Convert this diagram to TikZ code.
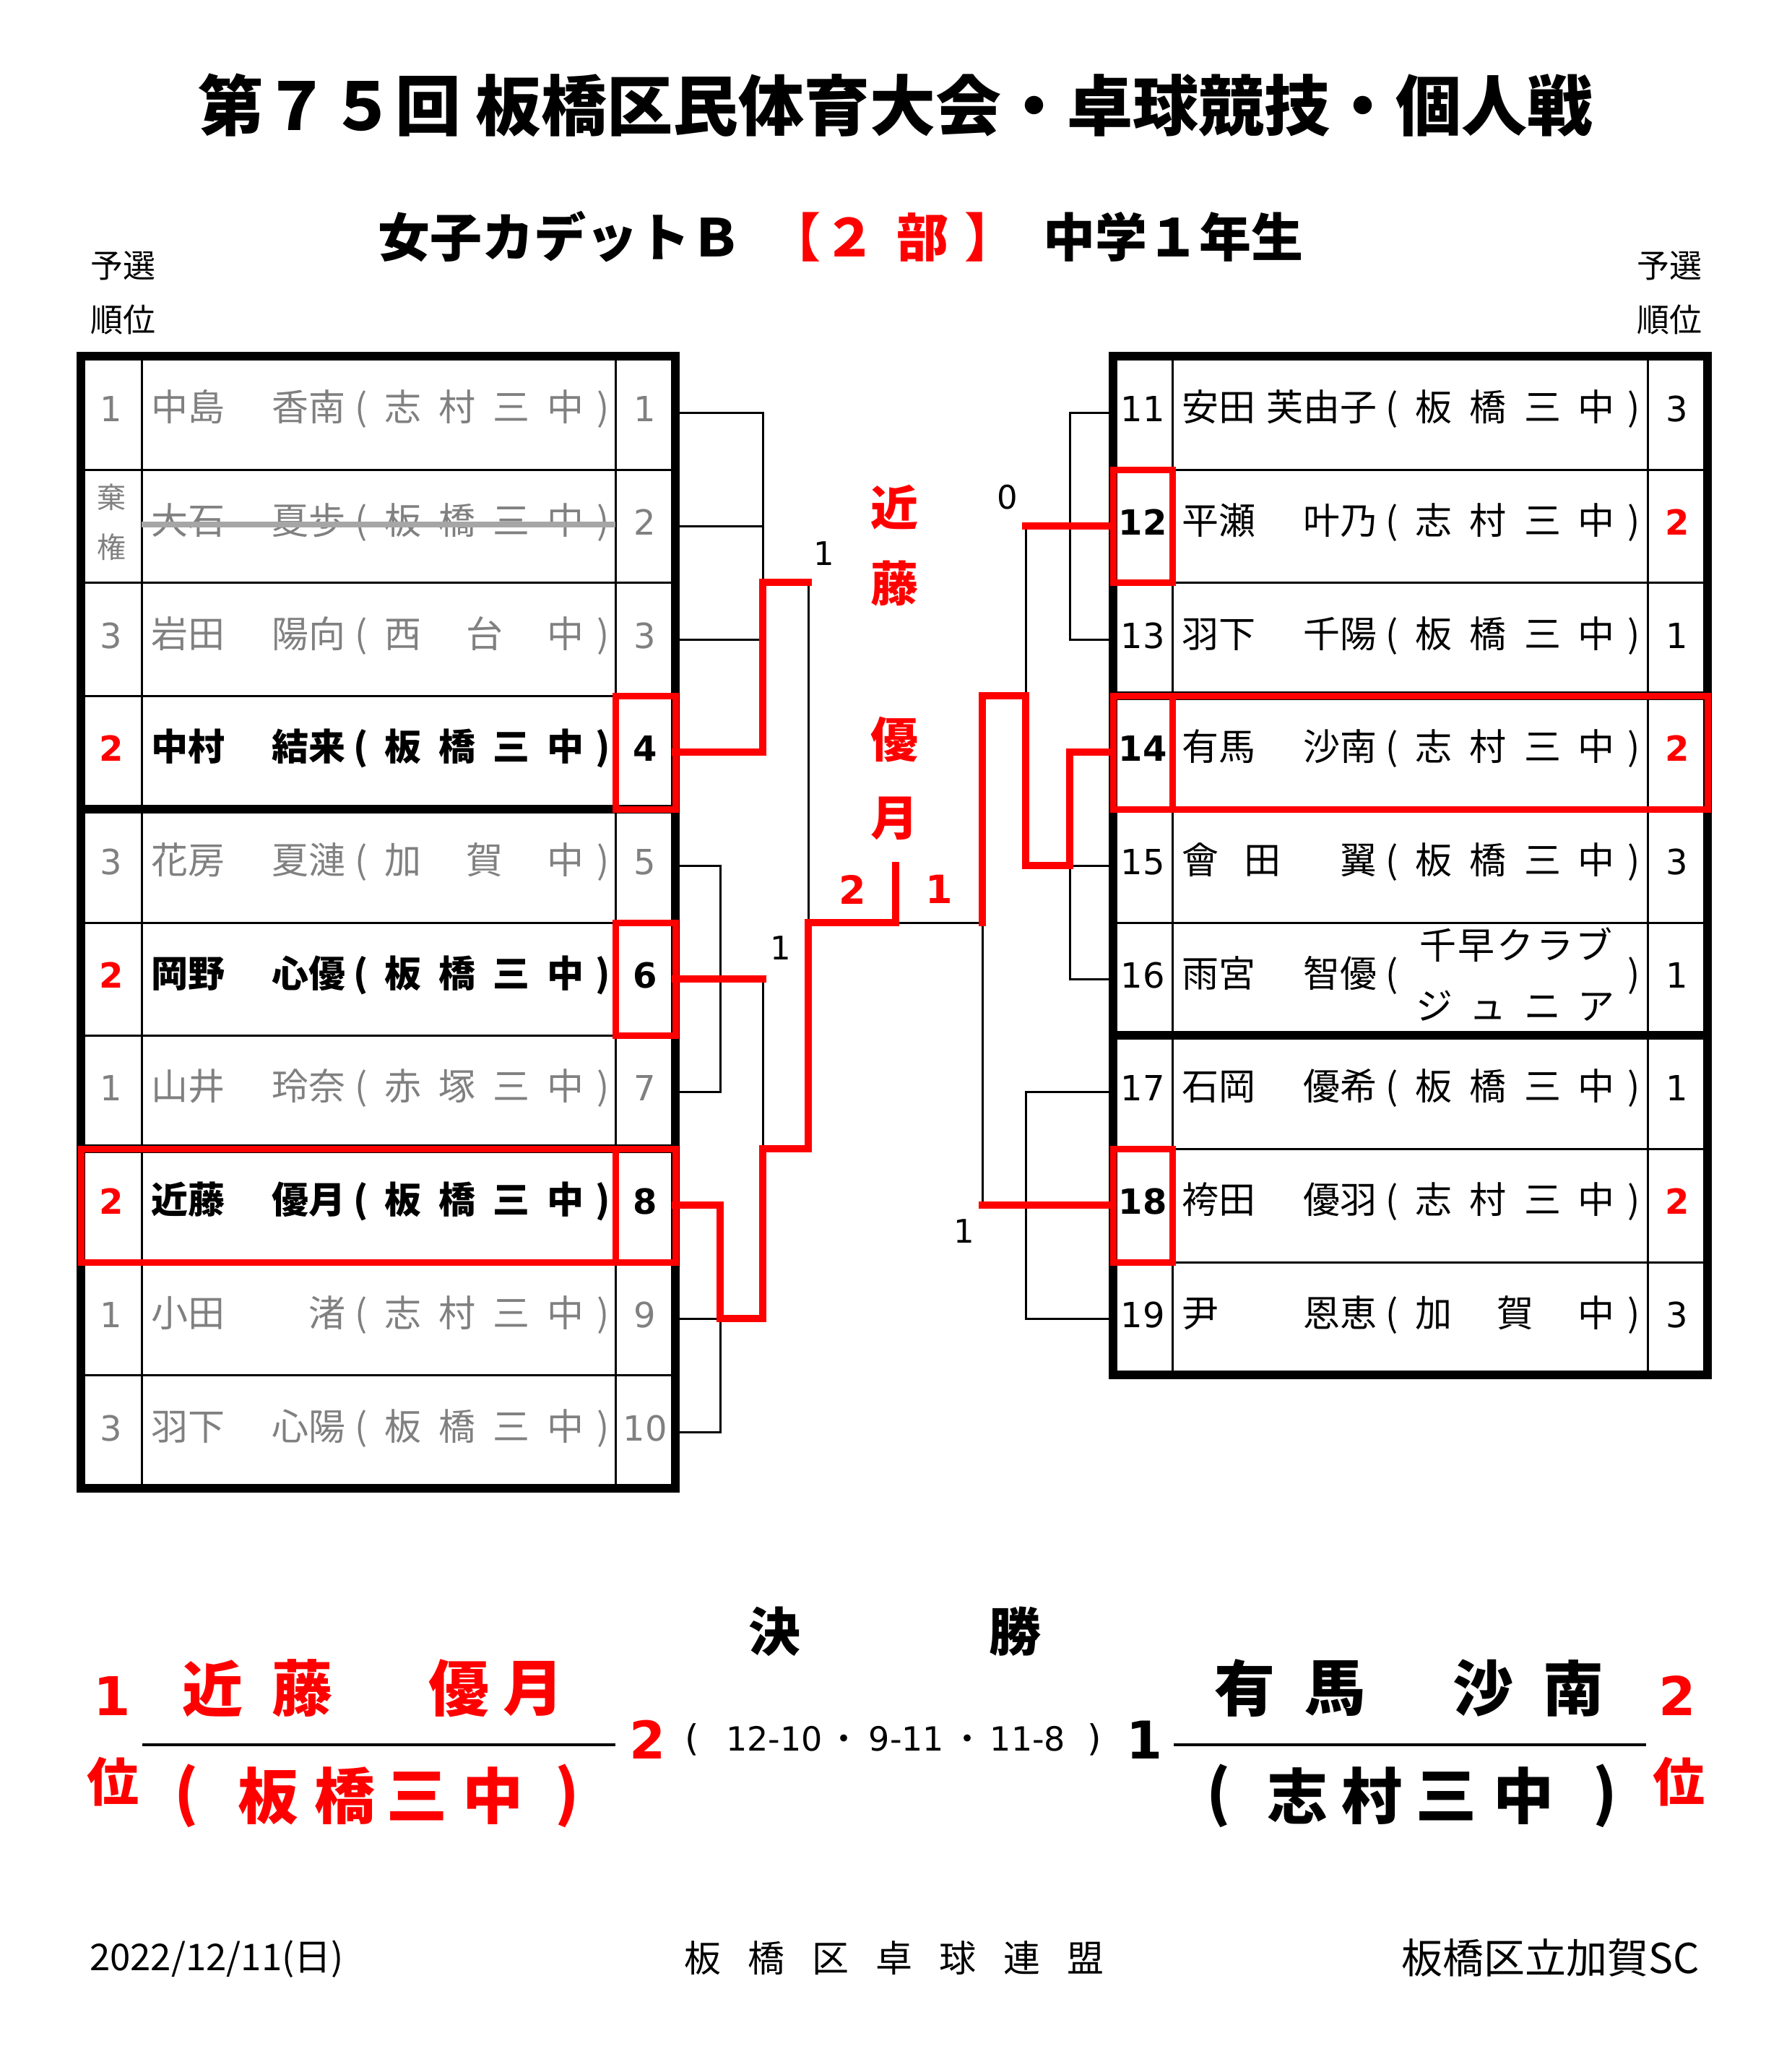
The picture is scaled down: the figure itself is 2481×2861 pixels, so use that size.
\documentclass[tikz,border=0pt]{standalone}
\usepackage{fontspec}
\setmainfont{Noto Sans CJK JP}
\newfontfamily\dv{DejaVu Sans}
\newdimen\px \px=0.1mm
\newcommand\fsz[1]{\fontsize{#1\px}{#1\px}\selectfont}
\definecolor{gry}{RGB}{128,128,128}
\definecolor{strk}{RGB}{166,166,166}
\definecolor{rd}{RGB}{255,0,0}
\newcommand\nmbox[3]{\makebox[270\px]{#1\hfill #2}\makebox[42\px]{(}#3\makebox[28\px]{)}}
\newcommand\schiv[4]{\makebox[75\px]{#1}\makebox[75\px]{#2}\makebox[75\px]{#3}\makebox[75\px]{#4}}
\newcommand\schiii[3]{\makebox[75\px]{#1}\makebox[150\px]{#2}\makebox[75\px]{#3}}
\tikzset{
 tx/.style={inner sep=0pt,outer sep=0pt},
 up/.style={yshift=0.5mm},
 nmg/.style={tx,up,anchor=west,text=gry,font=\fsz{51}},
 nmb/.style={tx,up,anchor=west,text=black,font=\bfseries\fsz{51}},
 nmk/.style={tx,up,anchor=west,text=black,font=\fsz{51}},
 dg/.style={tx,up,text=gry,font=\dv\fsz{48}},
 dk/.style={tx,up,text=black,font=\dv\fsz{48}},
 db/.style={tx,up,text=black,font=\dv\bfseries\fsz{48}},
 dr/.style={tx,up,text=rd,font=\dv\bfseries\fsz{48}},
 thn/.style={line width=0.3mm},
 thk/.style={line width=1.15mm},
 bl/.style={line width=0.3mm,line cap=rect},
 rl/.style={line width=1mm,draw=rd,line cap=rect,line join=miter},
 rbox/.style={line width=0.9mm,draw=rd,line cap=rect},
 sc/.style={tx,font=\dv\fsz{45}},
 bigr/.style={tx,text=rd,font=\bfseries\fsz{66}},
 fin/.style={tx,font=\bfseries\fsz{84}},
 subt/.style={tx,font=\bfseries\fsz{72}},
}
\begin{document}
\begin{tikzpicture}[x=0.1mm,y=-0.1mm]
\useasboundingbox (0,0) rectangle (2481,2861);
% ---------- titles
\node[tx,font=\bfseries\fsz{91}] (title) at (1240,146) {第７５回 板橋区民体育大会・卓球競技・個人戦};
\node[subt] (sub1) at (775,328) {女子カデットＢ};
\node[subt,text=rd] (sub2a) at (1100,328) {【};
\node[subt,text=rd] (sub2b) at (1176,328) {２};
\node[subt,text=rd] (sub2c) at (1277,328) {部};
\node[subt,text=rd] (sub2d) at (1371,328) {】};
\node[subt] (sub3) at (1624,328) {中学１年生};
\node[tx,font=\fsz{45}] (yl1) at (170,368) {予選};
\node[tx,font=\fsz{45}] (yl2) at (170,443) {順位};
\node[tx,font=\fsz{45}] (yr1) at (2311,368) {予選};
\node[tx,font=\fsz{45}] (yr2) at (2311,443) {順位};
% ---------- left table grid
\foreach \y in {650,806,963,1277,1433,1747,1903} \draw[thn] (112,\y) -- (935,\y);
\foreach \y in {1120,1590} \draw[thk] (112,\y) -- (935,\y);
\draw[thn] (196,493) -- (196,2060);
\draw[thn] (852,493) -- (852,2060);
\draw[thk,line join=miter] (112,493) rectangle (935,2060);
% ---------- right table grid
\foreach \y in {650,806,1120,1277,1590,1747} \draw[thn] (1541,\y) -- (2364,\y);
\foreach \y in {963,1433} \draw[thk] (1541,\y) -- (2364,\y);
\draw[thn] (1623,493) -- (1623,1903);
\draw[thn] (2281,493) -- (2281,1903);
\draw[thk,line join=miter] (1541,493) rectangle (2364,1903);
% ---------- left rows
\node[dg] (L1r) at (154,571) {1};
\node[nmg] (L1n) at (209,571) {\nmbox{中島}{香南}{\schiv{志}{村}{三}{中}}};
\node[dg] (L1d) at (893,571) {1};
\node[tx,text=gry,font=\fsz{40}] (L2ra) at (154,688) {棄};
\node[tx,text=gry,font=\fsz{40}] (L2rb) at (154,757) {権};
\node[nmg] (L2n) at (209,728) {\nmbox{大石}{夏歩}{\schiv{板}{橋}{三}{中}}};
\node[dg] (L2d) at (893,728) {2};
\node[dg] (L3r) at (154,885) {3};
\node[nmg] (L3n) at (209,885) {\nmbox{岩田}{陽向}{\schiii{西}{台}{中}}};
\node[dg] (L3d) at (893,885) {3};
\node[dr] (L4r) at (154,1041) {2};
\node[nmb] (L4n) at (209,1041) {\nmbox{中村}{結来}{\schiv{板}{橋}{三}{中}}};
\node[db] (L4d) at (893,1041) {4};
\node[dg] (L5r) at (154,1198) {3};
\node[nmg] (L5n) at (209,1198) {\nmbox{花房}{夏漣}{\schiii{加}{賀}{中}}};
\node[dg] (L5d) at (893,1198) {5};
\node[dr] (L6r) at (154,1355) {2};
\node[nmb] (L6n) at (209,1355) {\nmbox{岡野}{心優}{\schiv{板}{橋}{三}{中}}};
\node[db] (L6d) at (893,1355) {6};
\node[dg] (L7r) at (154,1511) {1};
\node[nmg] (L7n) at (209,1511) {\nmbox{山井}{玲奈}{\schiv{赤}{塚}{三}{中}}};
\node[dg] (L7d) at (893,1511) {7};
\node[dr] (L8r) at (154,1668) {2};
\node[nmb] (L8n) at (209,1668) {\nmbox{近藤}{優月}{\schiv{板}{橋}{三}{中}}};
\node[db] (L8d) at (893,1668) {8};
\node[dg] (L9r) at (154,1825) {1};
\node[nmg] (L9n) at (209,1825) {\nmbox{小田}{渚}{\schiv{志}{村}{三}{中}}};
\node[dg] (L9d) at (893,1825) {9};
\node[dg] (L10r) at (154,1982) {3};
\node[nmg] (L10n) at (209,1982) {\nmbox{羽下}{心陽}{\schiv{板}{橋}{三}{中}}};
\node[dg] (L10d) at (893,1982) {10};
\draw[line width=0.8mm,draw=strk] (196,726) -- (852,726);
% ---------- right rows
\node[dk] (R11d) at (1582,571) {11};
\node[nmk] (R11n) at (1636,571) {\nmbox{安田}{芙由子}{\schiv{板}{橋}{三}{中}}};
\node[dk] (R11r) at (2322,571) {3};
\node[db] (R12d) at (1582,728) {12};
\node[nmk] (R12n) at (1636,728) {\nmbox{平瀬}{叶乃}{\schiv{志}{村}{三}{中}}};
\node[dr] (R12r) at (2322,728) {2};
\node[dk] (R13d) at (1582,885) {13};
\node[nmk] (R13n) at (1636,885) {\nmbox{羽下}{千陽}{\schiv{板}{橋}{三}{中}}};
\node[dk] (R13r) at (2322,885) {1};
\node[db] (R14d) at (1582,1041) {14};
\node[nmk] (R14n) at (1636,1041) {\nmbox{有馬}{沙南}{\schiv{志}{村}{三}{中}}};
\node[dr] (R14r) at (2322,1041) {2};
\node[dk] (R15d) at (1582,1198) {15};
\node[nmk] (R15n) at (1636,1198) {\nmbox{會\hspace{36\px}田}{翼}{\schiv{板}{橋}{三}{中}}};
\node[dk] (R15r) at (2322,1198) {3};
\node[dk] (R16d) at (1582,1355) {16};
\node[nmk] (R16n) at (1636,1355) {\nmbox{雨宮}{智優}{\makebox[300\px]{}}};
\node[nmk] (R16s) at (1965,1313) {\makebox[267\px]{千\hfill 早\hfill ク\hfill ラ\hfill ブ}};
\node[nmk] (R16t) at (1948,1397) {\schiv{ジ}{ュ}{ニ}{ア}};
\node[dk] (R16r) at (2322,1355) {1};
\node[dk] (R17d) at (1582,1511) {17};
\node[nmk] (R17n) at (1636,1511) {\nmbox{石岡}{優希}{\schiv{板}{橋}{三}{中}}};
\node[dk] (R17r) at (2322,1511) {1};
\node[db] (R18d) at (1582,1668) {18};
\node[nmk] (R18n) at (1636,1668) {\nmbox{袴田}{優羽}{\schiv{志}{村}{三}{中}}};
\node[dr] (R18r) at (2322,1668) {2};
\node[dk] (R19d) at (1582,1825) {19};
\node[nmk] (R19n) at (1636,1825) {\nmbox{尹}{恩恵}{\schiii{加}{賀}{中}}};
\node[dk] (R19r) at (2322,1825) {3};
% ---------- bracket: black
\draw[bl] (935,571) -| (1056,806);
\draw[bl] (935,728) -- (1056,728);
\draw[bl] (935,885) -- (1056,885);
\draw[bl] (935,1198) -| (997,1511) -- (935,1511);
\draw[bl] (935,1825) -| (997,1982) -- (935,1982);
\draw[bl] (1056,1355) -- (1056,1590);
\draw[bl] (1119,806) -- (1119,1277);
\draw[bl] (1240,1277) -- (1360,1277) -- (1360,1668);
\draw[bl] (1541,571) -| (1481,885) -- (1541,885);
\draw[bl] (1420,728) -- (1420,963);
\draw[bl] (1541,1198) -| (1481,1355) -- (1541,1355);
\draw[bl] (1541,1511) -| (1420,1825) -- (1541,1825);
% ---------- bracket: red
\draw[rl] (935,1041) -| (1056,806) -- (1119,806);
\draw[rl] (935,1355) -- (1056,1355);
\draw[rl] (935,1668) -| (997,1825) -| (1056,1590) -| (1119,1277) -| (1240,1198);
\draw[rl] (1360,1277) |- (1420,963) |- (1481,1198) |- (1541,1041);
\draw[rl] (1541,728) -- (1420,728);
\draw[rl] (1541,1668) -- (1360,1668);
% ---------- red boxes
\draw[rbox] (852,963) rectangle (935,1120);
\draw[rbox] (852,1277) rectangle (935,1433);
\draw[rbox] (112,1590) rectangle (935,1747);
\draw[rbox] (852,1590) -- (852,1747);
\draw[rbox] (1541,650) rectangle (1623,806);
\draw[rbox] (1541,963) rectangle (2364,1120);
\draw[rbox] (1623,963) -- (1623,1120);
\draw[rbox] (1541,1590) rectangle (1623,1747);
% ---------- bracket labels
\node[sc] (s1) at (1141,766) {1};
\node[sc] (s2) at (1081,1312) {1};
\node[sc] (s3) at (1395,688) {0};
\node[sc] (s4) at (1335,1704) {1};
\node[tx,text=rd,font=\dv\bfseries\fsz{54}] (f1) at (1180,1231) {2};
\node[tx,text=rd,font=\dv\bfseries\fsz{54}] (f2) at (1300,1231) {1};
\node[bigr] (w1) at (1238,702) {近};
\node[bigr] (w2) at (1238,808) {藤};
\node[bigr] (w3) at (1238,1024) {優};
\node[bigr] (w4) at (1238,1133) {月};
% ---------- final
\node[tx,font=\bfseries\fsz{72}] (k1) at (1072,2258) {決};
\node[tx,font=\bfseries\fsz{72}] (k2) at (1405,2258) {勝};
\node[tx,text=rd,font=\dv\bfseries\fsz{74}] (p1) at (155,2347) {1};
\node[tx,text=rd,font=\bfseries\fsz{72}] (p1b) at (156,2466) {位};
\node[fin,text=rd] (a1) at (294,2337) {近};
\node[fin,text=rd] (a2) at (418,2337) {藤};
\node[fin,text=rd] (a3) at (635,2337) {優};
\node[fin,text=rd] (a4) at (738,2337) {月};
\draw[line width=0.45mm] (197,2415) -- (852,2415);
\node[fin,text=rd] (as0) at (258,2486) {(};
\node[fin,text=rd] (as1) at (371,2486) {板};
\node[fin,text=rd] (as2) at (477,2486) {橋};
\node[fin,text=rd] (as3) at (577,2486) {三};
\node[fin,text=rd] (as4) at (682,2486) {中};
\node[fin,text=rd] (as5) at (785,2486) {)};
\node[tx,text=rd,font=\dv\bfseries\fsz{72}] (g1) at (897,2408) {2};
\node[tx,anchor=west,font=\dv\fsz{46}] (score) at (930,2408) {\makebox[56\px]{\fsz{50}(}\makebox[172\px]{12-10}\makebox[20\px]{\rmfamily ・}\makebox[154\px]{9-11}\makebox[14\px]{\rmfamily ・}\makebox[154\px]{11-8}\makebox[30\px]{\fsz{50})}};
\node[tx,font=\dv\bfseries\fsz{72}] (g2) at (1585,2408) {1};
\draw[line width=0.45mm] (1625,2415) -- (2279,2415);
\node[fin] (b1) at (1723,2337) {有};
\node[fin] (b2) at (1848,2337) {馬};
\node[fin] (b3) at (2053,2337) {沙};
\node[fin] (b4) at (2178,2337) {南};
\node[fin] (bs0) at (1687,2486) {(};
\node[fin] (bs1) at (1796,2486) {志};
\node[fin] (bs2) at (1899,2486) {村};
\node[fin] (bs3) at (2002,2486) {三};
\node[fin] (bs4) at (2109,2486) {中};
\node[fin] (bs5) at (2222,2486) {)};
\node[tx,text=rd,font=\dv\bfseries\fsz{74}] (p2) at (2322,2347) {2};
\node[tx,text=rd,font=\bfseries\fsz{72}] (p2b) at (2324,2466) {位};
% ---------- footer
\node[tx,anchor=west,font=\fsz{51}] (date) at (124,2712) {2022/12/11(日)};
\node[tx,font=\fsz{51}] (org) at (1238,2710) {\makebox[581\px]{板\hfill 橋\hfill 区\hfill 卓\hfill 球\hfill 連\hfill 盟}};
\node[tx,anchor=east,font=\fsz{57}] (club) at (2353,2710) {板橋区立加賀SC};
\end{tikzpicture}
\end{document}
